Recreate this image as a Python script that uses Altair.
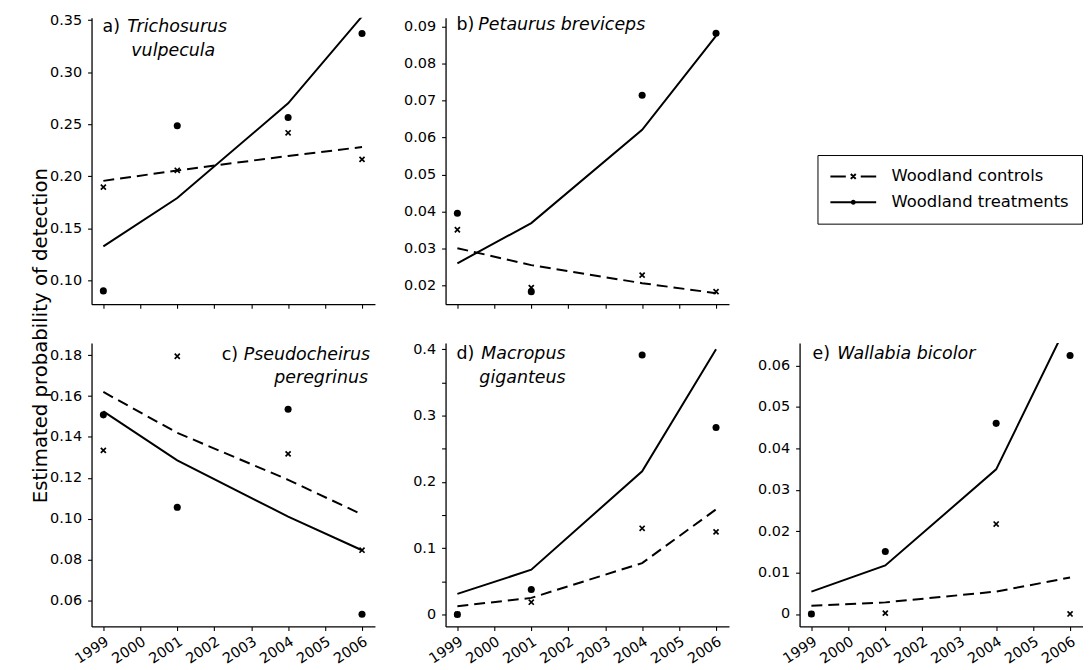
import altair as alt
import pandas as pd

years = [1999, 2001, 2004, 2006]
tick_years = [1999, 2000, 2001, 2002, 2003, 2004, 2005, 2006]
series_names = ["Woodland controls", "Woodland treatments"]

# a) Trichosurus vulpecula
a_ctrl_obs = [0.1895, 0.2057, 0.2417, 0.2162]
a_trt_obs = [0.0898, 0.2484, 0.2564, 0.3372]
a_ctrl_fit = [0.1955, 0.2055, 0.2195, 0.2280]
a_trt_fit = [0.1325, 0.1790, 0.2700, 0.3535]
a_yticks = [0.10, 0.15, 0.20, 0.25, 0.30, 0.35]

# b) Petaurus breviceps
b_ctrl_obs = [0.0350, 0.0193, 0.0227, 0.0182]
b_trt_obs = [0.0395, 0.0182, 0.0715, 0.0883]
b_ctrl_fit = [0.0300, 0.0254, 0.0205, 0.0178]
b_trt_fit = [0.0259, 0.0368, 0.0621, 0.0876]
b_yticks = [0.02, 0.03, 0.04, 0.05, 0.06, 0.07, 0.08, 0.09]

# c) Pseudocheirus peregrinus
c_ctrl_obs = [0.1334, 0.1795, 0.1317, 0.0845]
c_trt_obs = [0.1508, 0.1055, 0.1536, 0.0532]
c_ctrl_fit = [0.1620, 0.1420, 0.1190, 0.1020]
c_trt_fit = [0.1525, 0.1285, 0.1010, 0.0845]
c_yticks = [0.06, 0.08, 0.10, 0.12, 0.14, 0.16, 0.18]

# d) Macropus giganteus
d_ctrl_obs = [0.0, 0.0185, 0.1300, 0.1245]
d_trt_obs = [0.0, 0.0375, 0.3915, 0.2820]
d_ctrl_fit = [0.0125, 0.0250, 0.0775, 0.1585]
d_trt_fit = [0.0310, 0.0675, 0.2160, 0.4000]
d_yticks = [0.0, 0.05, 0.1, 0.15, 0.2, 0.25, 0.3, 0.35, 0.4]

# e) Wallabia bicolor
e_ctrl_obs = [0.0, 0.0002, 0.0217, 0.0]
e_trt_obs = [0.0, 0.0151, 0.0460, 0.0624]
e_ctrl_fit = [0.0020, 0.0028, 0.0054, 0.0088]
e_trt_fit = [0.0054, 0.0117, 0.0349, 0.0714]
e_yticks = [0.0, 0.01, 0.02, 0.03, 0.04, 0.05, 0.06]

FONT = "DejaVu Sans"
X_DOMAIN = [1998.68, 2006.35]
W = 285

CROSS = "M-1,-1L1,1M-1,1L1,-1"
# legend symbols (unit = 7.5 px): dashed line with a cross, solid line with a dot
LEG_CTRL = ("M-3.07,0H-1.0M1.0,0H3.07"
            "M-0.33,-0.33L0.33,0.33M-0.33,0.33L0.33,-0.33")
LEG_TRT = "M-3.07,0H3.07M0.2,0A0.2,0.2,0,1,1,-0.2,0A0.2,0.2,0,1,1,0.2,0Z"

xscale = alt.Scale(domain=X_DOMAIN, nice=False, zero=False)


def make_panel(ctrl_obs, trt_obs, ctrl_fit, trt_fit, ydom, yticks, label_expr,
               show_x_labels, height, notes, y_title=False):
    obs = pd.DataFrame({"year": years + years, "value": ctrl_obs + trt_obs,
                        "series": [series_names[0]] * 4 + [series_names[1]] * 4})
    fc = pd.DataFrame({"year": years, "value": ctrl_fit})
    ft = pd.DataFrame({"year": years, "value": trt_fit})
    oc = obs[obs.series == series_names[0]]
    ot = obs[obs.series == series_names[1]]

    xaxis = alt.Axis(values=tick_years, labels=show_x_labels, format="d",
                     labelAngle=-33, labelAlign="right", labelBaseline="top",
                     labelPadding=4, labelFlush=False, labelOverlap=False)
    x = alt.X("year:Q", title=None, scale=xscale, axis=xaxis)
    if y_title:
        yaxis = alt.Axis(values=yticks, labelExpr=label_expr, labelOverlap=False,
                         labelFlush=False, titleFont=FONT, titleFontSize=19.8,
                         titleFontWeight="normal", titleX=-45, titleY=319,
                         titleAlign="center", titleBaseline="alphabetic", titleAngle=270)
        y = alt.Y("value:Q", title="Estimated probability of detection",
                  scale=alt.Scale(domain=ydom, nice=False, zero=False), axis=yaxis)
    else:
        yaxis = alt.Axis(values=yticks, labelExpr=label_expr, labelOverlap=False,
                         labelFlush=False)
        y = alt.Y("value:Q", title=None,
                  scale=alt.Scale(domain=ydom, nice=False, zero=False), axis=yaxis)

    layers = [
        alt.Chart(fc).mark_line(color="black", strokeWidth=2, strokeDash=[11, 6],
                                clip=True).encode(x=x, y=y),
        alt.Chart(ft).mark_line(color="black", strokeWidth=2, clip=True).encode(x=x, y=y),
        alt.Chart(ot).mark_point(shape="circle", filled=True, color="black", size=50,
                                 opacity=1).encode(x=x, y=y),
        alt.Chart(oc).mark_point(shape=CROSS, filled=False, color="black", size=26,
                                 strokeWidth=1.7, opacity=1).encode(x=x, y=y),
    ]
    for txt, px, py, style, align in notes:
        layers.append(
            alt.Chart(pd.DataFrame({"t": [txt]})).mark_text(
                font=FONT, fontSize=17.5, fontStyle=style, align=align,
                baseline="middle", color="black").encode(
                text="t:N", x=alt.value(px), y=alt.value(py))
        )
    return alt.layer(*layers).properties(width=W, height=height)


lab2 = "format(datum.value, '.2f')"
lab_d = "datum.value == 0 ? '0' : (round(datum.value * 100) % 10 == 0 ? format(datum.value, '.1f') : '')"
lab_e = "datum.value == 0 ? '0' : format(datum.value, '.2f')"

pa = make_panel(a_ctrl_obs, a_trt_obs, a_ctrl_fit, a_trt_fit, [0.077, 0.3522], a_yticks, lab2,
                False, 288,
                [("a)", 11, 9, "normal", "left"), ("Trichosurus", 36, 9, "italic", "left"),
                 ("vulpecula", 40, 33, "italic", "left")], y_title=True)
pb = make_panel(b_ctrl_obs, b_trt_obs, b_ctrl_fit, b_trt_fit, [0.0148, 0.0925], b_yticks, lab2,
                False, 288,
                [("b)", 11, 7, "normal", "left"), ("Petaurus breviceps", 33, 7, "italic", "left")])
pc = make_panel(c_ctrl_obs, c_trt_obs, c_ctrl_fit, c_trt_fit, [0.0472, 0.186], c_yticks, lab2,
                True, 285,
                [("c)", 131, 12, "normal", "left"), ("Pseudocheirus", 280, 12, "italic", "right"),
                 ("peregrinus", 278, 35, "italic", "right")])
pd_ = make_panel(d_ctrl_obs, d_trt_obs, d_ctrl_fit, d_trt_fit, [-0.018, 0.4095], d_yticks, lab_d,
                 True, 285,
                 [("d)", 11, 11, "normal", "left"), ("Macropus", 36, 11, "italic", "left"),
                  ("giganteus", 34, 35, "italic", "left")])
pe = make_panel(e_ctrl_obs, e_trt_obs, e_ctrl_fit, e_trt_fit, [-0.003, 0.0654], e_yticks, lab_e,
                True, 285,
                [("e)", 13, 11, "normal", "left"), ("Wallabia bicolor", 38, 11, "italic", "left")])

# legend cell (invisible marks, only the legend is drawn)
leg_df = pd.DataFrame({"year": [1999, 1999], "value": [0.0, 0.0], "series": series_names})
pleg = alt.Chart(leg_df).mark_point(filled=False, color="black", strokeWidth=2, opacity=0).encode(
    x=alt.X("year:Q", scale=xscale, axis=None),
    y=alt.Y("value:Q", axis=None),
    shape=alt.Shape("series:N",
                    scale=alt.Scale(domain=series_names, range=[LEG_CTRL, LEG_TRT]),
                    legend=alt.Legend(title=None, orient="none", legendX=730, legendY=138,
                                      direction="vertical", strokeColor="black",
                                      fillColor="white", padding=13, labelFont=FONT,
                                      labelFontSize=16.5, labelColor="black", labelLimit=400,
                                      labelOffset=30, symbolOffset=14.5, rowPadding=9,
                                      symbolSize=225, symbolStrokeWidth=2,
                                      symbolStrokeColor="black", symbolFillColor="black",
                                      symbolOpacity=1)),
).properties(width=W, height=288)

chart = alt.concat(pa, pb, pleg, pc, pd_, pe, columns=3, spacing={"row": 39, "column": 71},
                   bounds="flush").configure_view(
    stroke=None
).configure_axis(
    domainColor="black", domainWidth=1.3, tickColor="black", tickWidth=1.1, tickSize=4,
    labelColor="black", labelFont=FONT, labelFontSize=14.5, labelPadding=6, grid=False,
    titleColor="black"
).properties(padding={"left": 23, "top": 2, "right": 0, "bottom": 4})

chart.save("out.html", embed_options={"renderer": "svg", "actions": False})
